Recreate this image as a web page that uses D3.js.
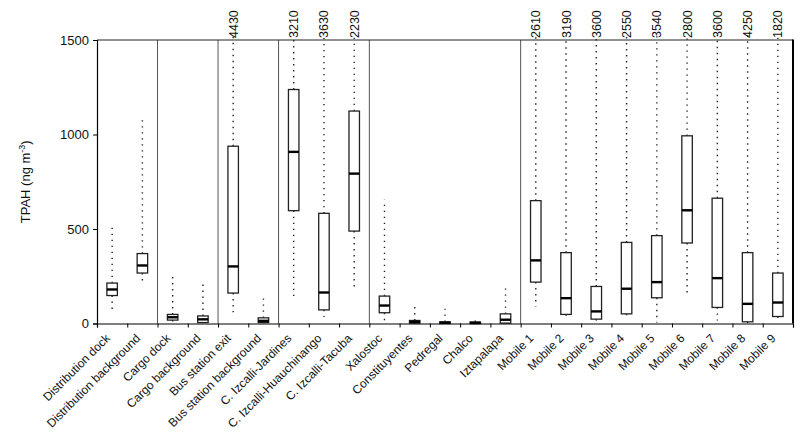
<!DOCTYPE html>
<html>
<head>
<meta charset="utf-8">
<script src="https://cdn.jsdelivr.net/npm/d3@7"></script>
<style>
  html, body { margin: 0; padding: 0; background: #fff; }
  svg { display: block; font-family: "Liberation Sans", Arial, sans-serif; }
</style>
</head>
<body>
<svg id="chart" width="800" height="436"></svg>
<script>
const categories = ["Distribution dock","Distribution background","Cargo dock","Cargo background",
  "Bus station exit","Bus station background","C. Izcalli-Jardines","C. Izcalli-Huauchinango",
  "C. Izcalli-Tacuba","Xalostoc","Constituyentes","Pedregal","Chalco","Iztapalapa",
  "Mobile 1","Mobile 2","Mobile 3","Mobile 4","Mobile 5","Mobile 6","Mobile 7","Mobile 8","Mobile 9"];
const minValues    = [69, 222, 8, 2, 60, 2, 140, 34, 175, 16, 0, 0, 0, 2, 90, 30, 2, 20, 5, 148, 16, 2, 16];
const q1Values     = [148, 267, 18, 5, 161, 5, 597, 72, 489, 57, 2, 0, 0, 2, 219, 48, 23, 51, 136, 426, 85, 9, 37];
const medianValues = [180, 307, 33, 22, 302, 14, 908, 164, 793, 95, 9, 4, 3, 20, 334, 134, 64, 184, 219, 599, 240, 104, 111];
const q3Values     = [214, 370, 48, 40, 938, 30, 1238, 583, 1124, 145, 16, 9, 8, 51, 650, 375, 196, 429, 465, 993, 663, 375, 267];
const maxValues    = [510, 1076, 269, 210, 4430, 134, 3210, 3630, 2230, 655, 104, 78, 18, 201, 2610, 3190, 3600, 2550, 3540, 2800, 3600, 4250, 1820];
const groupEnds    = [2, 4, 6, 9, 14];   // separators after these many categories
const yTicks       = [0, 500, 1000, 1500];

const rows = categories.map((c, i) => ({
  cat: c, min: minValues[i], q1: q1Values[i], med: medianValues[i], q3: q3Values[i], max: maxValues[i]
}));

const svg = d3.select("#chart");
const L = 97, R = 793, T = 40, B = 323.5;
const x = d3.scaleBand().domain(categories).range([L, R]).padding(0);
const xb = d3.scaleLinear().domain([0, categories.length]).range([L, R]);
const y = d3.scaleLinear().domain([0, 1500]).range([B, T]);
const boxW = 10.5;

// separators
svg.append("g").selectAll("line").data(groupEnds).join("line")
  .attr("x1", d => xb(d)).attr("x2", d => xb(d))
  .attr("y1", T).attr("y2", B)
  .attr("stroke", "#555").attr("stroke-width", 1);

// frame top / right
svg.append("line").attr("x1", L).attr("x2", R).attr("y1", T).attr("y2", T)
  .attr("stroke", "#222").attr("stroke-width", 1);
svg.append("line").attr("x1", R).attr("x2", R).attr("y1", T - 0.5).attr("y2", B)
  .attr("stroke", "#000").attr("stroke-width", 2);

const g = svg.append("g").selectAll("g").data(rows).join("g")
  .attr("transform", d => `translate(${x(d.cat) + x.bandwidth() / 2},0)`);

// whiskers (dotted)
g.append("line")
  .attr("x1", 0).attr("x2", 0)
  .attr("y1", d => y(d.q3))
  .attr("y2", d => d.max > 1500 ? y(1500) - 5 : y(d.max))
  .attr("stroke", "#222").attr("stroke-width", 1.4)
  .attr("stroke-dasharray", "1.4,4.6");
g.append("line")
  .attr("x1", 0).attr("x2", 0)
  .attr("y1", d => y(d.q1)).attr("y2", d => y(d.min))
  .attr("stroke", "#222").attr("stroke-width", 1.4)
  .attr("stroke-dasharray", "1.4,4.6");

// boxes
g.append("rect")
  .attr("x", -boxW / 2).attr("width", boxW)
  .attr("y", d => y(d.q3)).attr("height", d => Math.max(1, y(d.q1) - y(d.q3)))
  .attr("fill", "#fff").attr("stroke", "#222").attr("stroke-width", 1.3);
// medians
g.append("line")
  .attr("x1", -boxW / 2).attr("x2", boxW / 2)
  .attr("y1", d => y(d.med)).attr("y2", d => y(d.med))
  .attr("stroke", "#000").attr("stroke-width", 2.4);

// off-scale max labels
g.filter(d => d.max > 1500).append("text")
  .attr("transform", `translate(4.5,${T - 2}) rotate(-90)`)
  .attr("text-anchor", "start")
  .attr("font-size", 12.5).attr("fill", "#111")
  .text(d => d.max);

// y axis
const yAxis = svg.append("g").attr("transform", `translate(${L},0)`)
  .call(d3.axisLeft(y).tickValues(yTicks).tickSize(4).tickPadding(4).tickFormat(d3.format("d")));
yAxis.select(".domain").attr("stroke", "#000").attr("stroke-width", 1.2);
yAxis.selectAll(".tick line").attr("stroke", "#000");
yAxis.selectAll(".tick text").attr("font-size", 13).attr("fill", "#111")
  .attr("font-family", "Liberation Sans, Arial, sans-serif");

// x axis ticks at boundaries
const xAxis = svg.append("g").attr("transform", `translate(0,${B})`)
  .call(d3.axisBottom(xb).tickValues(d3.range(0, categories.length + 1)).tickSize(4).tickFormat(""));
xAxis.select(".domain").attr("stroke", "#000").attr("stroke-width", 1.2);
xAxis.selectAll(".tick line").attr("stroke", "#000");

// x labels
svg.append("g").selectAll("text").data(categories).join("text")
  .attr("transform", d => `translate(${x(d) + x.bandwidth() / 2 - 1.5},${B + 15.5}) rotate(-45)`)
  .attr("text-anchor", "end")
  .attr("font-size", 12).attr("fill", "#111")
  .text(d => d);

// y title
const yt = svg.append("text")
  .attr("transform", `translate(30,${(T + B) / 2}) rotate(-90)`)
  .attr("text-anchor", "middle")
  .attr("font-size", 13).attr("fill", "#111");
yt.append("tspan").text("TPAH (ng m");
yt.append("tspan").attr("font-size", 9).attr("dy", -5).text("-3");
yt.append("tspan").attr("dy", 5).text(")");
</script>
</body>
</html>
